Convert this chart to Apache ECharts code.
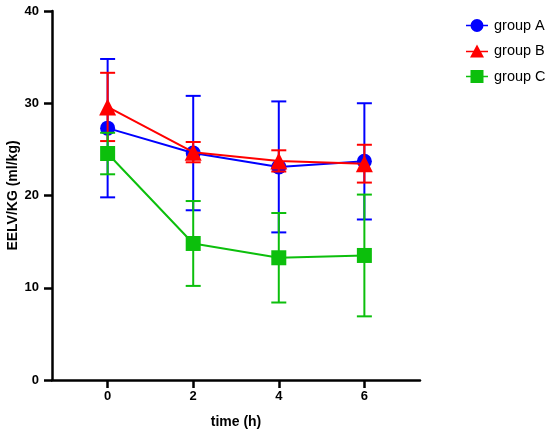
<!DOCTYPE html>
<html>
<head>
<meta charset="utf-8">
<script src="https://cdn.jsdelivr.net/npm/echarts@6/dist/echarts.min.js"></script>
<style>
  html, body { margin: 0; padding: 0; background: #fff; }
  #chart { width: 550px; height: 435px; }
</style>
</head>
<body>
<div id="chart"></div>
<script>
'use strict';

// time points (h)
const times = [0, 2, 4, 6];
const xTicks = [0, 2, 4, 6];

// EELV/KG means and SD per group
const groupAMean = [27.3, 24.6, 23.1, 23.7];
const groupASd = [7.5, 6.2, 7.1, 6.3];
const groupBMean = [29.6, 24.7, 23.75, 23.45];
const groupBSd = [3.7, 1.1, 1.15, 2.05];
const groupCMean = [24.55, 14.8, 13.25, 13.5];
const groupCSd = [2.25, 4.6, 4.85, 6.6];

const groups = [
  { name: 'group A', mean: groupAMean, sd: groupASd, color: '#0000ff', symbol: 'circle', size: 15,
    icon: 'path://M0,7.2h22v1.6h-22z M11,1.5 A6.5,6.5 0 1 1 10.99,1.5z' },
  { name: 'group B', mean: groupBMean, sd: groupBSd, color: '#ff0000', symbol: 'triangle', size: 17,
    icon: 'path://M0,7.2h22v1.6h-22z M11,1 L18,14 L4,14z' },
  { name: 'group C', mean: groupCMean, sd: groupCSd, color: '#0cbf0c', symbol: 'rect', size: 15,
    icon: 'path://M0,7.2h22v1.6h-22z M4.5,1.5h13v13h-13z' },
];

const FONT = 'Liberation Sans, Arial, sans-serif';
const CAP = 7.5;

function errorSeries(g, z) {
  return {
    type: 'custom',
    name: g.name + ' SD',
    z,
    silent: true,
    data: times.map((t, i) => [t, g.mean[i] - g.sd[i], g.mean[i] + g.sd[i]]),
    renderItem(params, api) {
      const lo = api.coord([api.value(0), api.value(1)]);
      const hi = api.coord([api.value(0), api.value(2)]);
      const style = { stroke: g.color, lineWidth: 2, fill: null };
      return {
        type: 'group',
        children: [
          { type: 'line', shape: { x1: hi[0], y1: hi[1], x2: lo[0], y2: lo[1] }, style },
          { type: 'line', shape: { x1: hi[0] - CAP, y1: hi[1], x2: hi[0] + CAP, y2: hi[1] }, style },
          { type: 'line', shape: { x1: lo[0] - CAP, y1: lo[1], x2: lo[0] + CAP, y2: lo[1] }, style },
        ],
      };
    },
  };
}

function lineSeries(g, z) {
  return {
    type: 'line',
    name: g.name,
    z,
    data: times.map((t, i) => [t, g.mean[i]]),
    symbol: g.symbol,
    symbolSize: g.size,
    showAllSymbol: true,
    lineStyle: { color: g.color, width: 2 },
    itemStyle: { color: g.color },
    emphasis: { disabled: true },
  };
}

const series = [];
groups.forEach((g, i) => {
  series.push(errorSeries(g, 2 + i * 2));
  series.push(lineSeries(g, 3 + i * 2));
});

const chart = echarts.init(document.getElementById('chart'), null, { renderer: 'canvas' });
chart.setOption({
  backgroundColor: '#fff',
  animation: false,
  textStyle: { fontFamily: FONT },
  grid: { left: 52, right: 130, top: 11, bottom: 55, containLabel: false, outerBoundsMode: 'none' },
  legend: {
    orient: 'vertical',
    left: 461,
    top: 13,
    itemWidth: 22,
    itemHeight: 17,
    itemGap: 10.5,
    selectedMode: false,
    textStyle: { fontFamily: FONT, fontSize: 14.5, color: '#000', padding: [0, 0, 0, 1] },
    data: groups.map((g) => ({ name: g.name, icon: g.icon, itemStyle: { color: g.color } })),
  },
  xAxis: {
    type: 'value',
    min: -1.3,
    max: 7.3,
    name: 'time (h)',
    nameLocation: 'middle',
    nameGap: 35,
    nameMoveOverlap: false,
    nameTextStyle: { fontFamily: FONT, fontSize: 14, fontWeight: 'bold', color: '#000' },
    axisLine: { show: true, onZero: false, lineStyle: { color: '#000', width: 2.5 } },
    axisTick: { show: true, length: 8, customValues: xTicks, lineStyle: { color: '#000', width: 2.5 } },
    axisLabel: { customValues: xTicks, margin: 10, fontFamily: FONT, fontSize: 13, fontWeight: 'bold', color: '#000' },
    splitLine: { show: false },
  },
  yAxis: {
    type: 'value',
    min: 0,
    max: 40,
    interval: 10,
    name: 'EELV/KG (ml/kg)',
    nameLocation: 'middle',
    nameGap: 32,
    nameMoveOverlap: false,
    nameTextStyle: { fontFamily: FONT, fontSize: 14, fontWeight: 'bold', color: '#000' },
    axisLine: { show: true, onZero: false, lineStyle: { color: '#000', width: 2.5 } },
    axisTick: { show: true, length: 8, lineStyle: { color: '#000', width: 2.5 } },
    axisLabel: { margin: 13, fontFamily: FONT, fontSize: 13, fontWeight: 'bold', color: '#000' },
    splitLine: { show: false },
  },
  series,
});
</script>
</body>
</html>
